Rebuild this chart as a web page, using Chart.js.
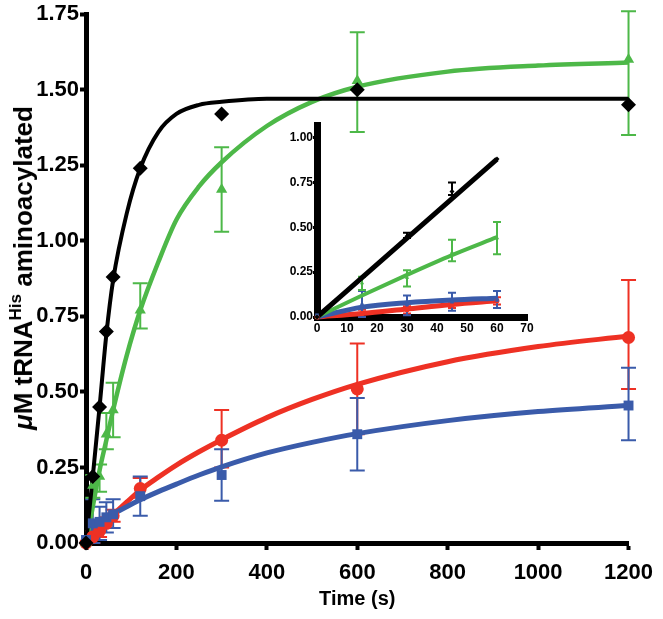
<!DOCTYPE html>
<html>
<head>
<meta charset="utf-8">
<script src="https://cdn.jsdelivr.net/npm/chart.js@4.4.0/dist/chart.umd.min.js"></script>
<style>
  body { margin: 0; background: #fff; }
  #wrap { position: relative; width: 663px; height: 619px; }
  #mainChart { position: absolute; left: 0; top: 0; }
  #insetChart { position: absolute; left: 270px; top: 115px; }
  #ytitle {
    position: absolute; left: 23px; top: 268px;
    transform: translate(-50%, -50%) rotate(-90deg);
    white-space: nowrap;
    font: bold 26px "Liberation Sans", Arial, sans-serif;
    line-height: 1;
    color: #000;
  }
  #ytitle sup { font-size: 17px; vertical-align: 11px; line-height: 0; }
</style>
</head>
<body>
<div id="wrap">
  <canvas id="mainChart" width="663" height="619"></canvas>
  <canvas id="insetChart" width="270" height="225"></canvas>
  <div id="ytitle"><i>μ</i>M tRNA<sup>His</sup> aminoacylated</div>
</div>
<script>
// measured time points (s)
const times = [0, 15, 30, 45, 60, 120, 300, 600, 1200];

const blackY  = [0, 0.22, 0.45, 0.70, 0.88, 1.24, 1.42, 1.50, 1.45];
const blackLo = [0, 0.22, 0.44, 0.68, 0.88, 1.24, 1.42, 1.50, 1.45];
const blackHi = [0, 0.22, 0.47, 0.75, 0.88, 1.24, 1.42, 1.50, 1.45];

const greenY  = [0, 0.19, 0.22, 0.36, 0.44, 0.77, 1.17, 1.53, 1.60];
const greenLo = [0, 0.15, 0.17, 0.31, 0.35, 0.71, 1.03, 1.36, 1.35];
const greenHi = [0, 0.225, 0.26, 0.43, 0.53, 0.86, 1.31, 1.69, 1.76];

const redY  = [0, 0.02, 0.04, 0.065, 0.09, 0.18, 0.34, 0.51, 0.68];
const redLo = [0, 0.0, 0.02, 0.05, 0.07, 0.15, 0.25, 0.36, 0.51];
const redHi = [0, 0.04, 0.06, 0.085, 0.11, 0.215, 0.44, 0.66, 0.87];

const blueY  = [0.01, 0.065, 0.07, 0.085, 0.095, 0.155, 0.225, 0.36, 0.455];
const blueLo = [0.01, 0.0, 0.01, 0.035, 0.05, 0.09, 0.14, 0.24, 0.34];
const blueHi = [0.01, 0.145, 0.12, 0.135, 0.145, 0.22, 0.31, 0.48, 0.58];

// fitted curves
const fitTimes = [0, 15, 30, 45, 60, 90, 120, 160, 200, 250, 300, 400, 500, 600, 800, 1000, 1200];
const blackFit = [0, 0.22, 0.45, 0.69, 0.87, 1.09, 1.24, 1.36, 1.42, 1.45, 1.46, 1.47, 1.47, 1.47, 1.47, 1.47, 1.47];
const greenFit = [0, 0.12, 0.24, 0.34, 0.44, 0.62, 0.77, 0.93, 1.07, 1.18, 1.26, 1.38, 1.46, 1.51, 1.56, 1.58, 1.59];
const redFit   = [0, 0.025, 0.048, 0.07, 0.093, 0.135, 0.175, 0.218, 0.258, 0.302, 0.342, 0.415, 0.475, 0.525, 0.60, 0.65, 0.685];
const blueFit  = [0, 0.045, 0.065, 0.08, 0.095, 0.12, 0.143, 0.17, 0.195, 0.225, 0.252, 0.298, 0.333, 0.362, 0.405, 0.435, 0.455];

// inset (first minute)
const insetTimes = [0, 15, 30, 45, 60];
const insetBlackFit = [0, 0.22, 0.44, 0.66, 0.88];
const insetGreenFit = [0, 0.12, 0.235, 0.345, 0.445];
const insetRedFit   = [0, 0.02, 0.045, 0.07, 0.09];
const insetBlueFit  = [0, 0.055, 0.08, 0.095, 0.105];

const xTicks = [0, 200, 400, 600, 800, 1000, 1200];
const yTicks = [0, 0.25, 0.5, 0.75, 1.0, 1.25, 1.5, 1.75];
const insetXTicks = [0, 10, 20, 30, 40, 50, 60, 70];
const insetYTicks = [0, 0.25, 0.5, 0.75, 1.0];

const BLACK = '#000000';
const GREEN = '#4db848';
const RED = '#ee3124';
const BLUE = '#3a5baa';
const FONT = '"Liberation Sans", Arial, sans-serif';

function pts(xs, ys, n) {
  const count = n || xs.length;
  return xs.slice(0, count).map((x, i) => ({ x: x, y: ys[i] }));
}

const errorBars = {
  id: 'errorBars',
  beforeDatasetsDraw(chart, args, opts) {
    const ctx = chart.ctx;
    const xs = chart.scales.x;
    const ys = chart.scales.y;
    chart.data.datasets.forEach(ds => {
      if (!ds.lo) return;
      ctx.save();
      ctx.strokeStyle = ds.borderColor;
      ctx.lineWidth = opts.width;
      ds.data.forEach((p, i) => {
        const lo = ds.lo[i];
        const hi = ds.hi[i];
        if (hi - lo < 0.005) return;
        const x = xs.getPixelForValue(p.x);
        const y1 = ys.getPixelForValue(lo);
        const y2 = ys.getPixelForValue(hi);
        ctx.beginPath();
        ctx.moveTo(x, y1); ctx.lineTo(x, y2);
        ctx.moveTo(x - opts.cap, y1); ctx.lineTo(x + opts.cap, y1);
        ctx.moveTo(x - opts.cap, y2); ctx.lineTo(x + opts.cap, y2);
        ctx.stroke();
      });
      ctx.restore();
    });
  }
};

function fitSet(xs, ys, color, width, order) {
  return {
    data: pts(xs, ys),
    showLine: true,
    borderColor: color,
    borderWidth: width,
    pointRadius: 0,
    cubicInterpolationMode: 'monotone',
    clip: false,
    order: order
  };
}

function pointSet(ys, lo, hi, color, style, radius, n, order) {
  const ds = {
    data: pts(times, ys, n),
    showLine: false,
    borderColor: color,
    backgroundColor: color,
    pointStyle: style,
    pointRadius: radius,
    pointBorderWidth: 0,
    clip: false,
    order: order
  };
  if (lo) {
    ds.lo = lo.slice(0, n || lo.length);
    ds.hi = hi.slice(0, n || hi.length);
  }
  return ds;
}

function axis(min, max, ticks, opts) {
  return {
    type: 'linear',
    min: min,
    max: max,
    afterBuildTicks: s => { s.ticks = ticks.map(v => ({ value: v })); },
    afterFit: s => {
      if (s.isHorizontal()) s.height = opts.size; else s.width = opts.size;
    },
    border: { display: true, width: opts.border, color: BLACK },
    grid: {
      display: true, drawOnChartArea: false, drawTicks: true,
      tickLength: opts.tickLength, tickWidth: opts.tickWidth, tickColor: BLACK
    },
    ticks: {
      color: BLACK,
      font: { family: FONT, size: opts.font, weight: 'bold' },
      padding: opts.pad,
      maxRotation: 0,
      autoSkip: false,
      callback: opts.fmt
    },
    title: opts.title || { display: false }
  };
}

function renderMain() {
  const ctx = document.getElementById('mainChart').getContext('2d');
  new Chart(ctx, {
    type: 'scatter',
    data: {
      datasets: [
        fitSet(fitTimes, redFit, RED, 5, 8),
        fitSet(fitTimes, blueFit, BLUE, 5, 7),
        fitSet(fitTimes, greenFit, GREEN, 4.5, 6),
        fitSet(fitTimes, blackFit, BLACK, 4, 5),
        pointSet(redY, redLo, redHi, RED, 'circle', 6.5, 0, 4),
        pointSet(blueY, blueLo, blueHi, BLUE, 'rect', 7, 0, 3),
        pointSet(greenY, greenLo, greenHi, GREEN, 'triangle', 6.5, 0, 2),
        pointSet(blackY, null, null, BLACK, 'rectRot', 7.5, 0, 1)
      ]
    },
    options: {
      responsive: false,
      animation: false,
      layout: { padding: { top: 13, right: 29, bottom: 0, left: 0 } },
      plugins: {
        legend: { display: false },
        tooltip: { enabled: false },
        errorBars: { width: 2, cap: 7.5 }
      },
      scales: {
        x: axis(0, 1200, xTicks, {
          size: 76, border: 5, tickLength: 7, tickWidth: 4, font: 22, pad: 10,
          fmt: v => String(v),
          title: { display: true, text: 'Time (s)', color: BLACK,
                   font: { family: FONT, size: 20, weight: 'bold' },
                   padding: { top: 0, bottom: 8 } }
        }),
        y: axis(0, 1.75, yTicks, {
          size: 86, border: 5, tickLength: 6, tickWidth: 4, font: 22, pad: 1,
          fmt: v => v.toFixed(2)
        })
      }
    },
    plugins: [errorBars]
  });
}

function renderInset() {
  const ctx = document.getElementById('insetChart').getContext('2d');
  const n = insetTimes.length;
  new Chart(ctx, {
    type: 'scatter',
    data: {
      datasets: [
        fitSet(insetTimes, insetRedFit, RED, 5, 8),
        fitSet(insetTimes, insetBlueFit, BLUE, 5, 7),
        fitSet(insetTimes, insetGreenFit, GREEN, 4, 6),
        fitSet(insetTimes, insetBlackFit, BLACK, 5, 5),
        pointSet(redY, redLo, redHi, RED, 'circle', 2.5, n, 4),
        pointSet(blueY, blueLo, blueHi, BLUE, 'rect', 2.5, n, 3),
        pointSet(greenY, greenLo, greenHi, GREEN, 'triangle', 2.5, n, 2),
        pointSet(blackY, blackLo, blackHi, BLACK, 'rectRot', 2.5, n, 1)
      ]
    },
    options: {
      responsive: false,
      animation: false,
      layout: { padding: { top: 10, right: 13, bottom: 0, left: 0 } },
      plugins: {
        legend: { display: false },
        tooltip: { enabled: false },
        errorBars: { width: 2, cap: 4 }
      },
      scales: {
        x: axis(0, 70, insetXTicks, {
          size: 23, border: 7, tickLength: 4, tickWidth: 3, font: 12, pad: 0,
          fmt: v => String(v)
        }),
        y: axis(0, 1.07, insetYTicks, {
          size: 47, border: 7, tickLength: 4, tickWidth: 3, font: 12, pad: 0,
          fmt: v => v.toFixed(2)
        })
      }
    },
    plugins: [errorBars]
  });
}

renderMain();
renderInset();
</script>
</body>
</html>
